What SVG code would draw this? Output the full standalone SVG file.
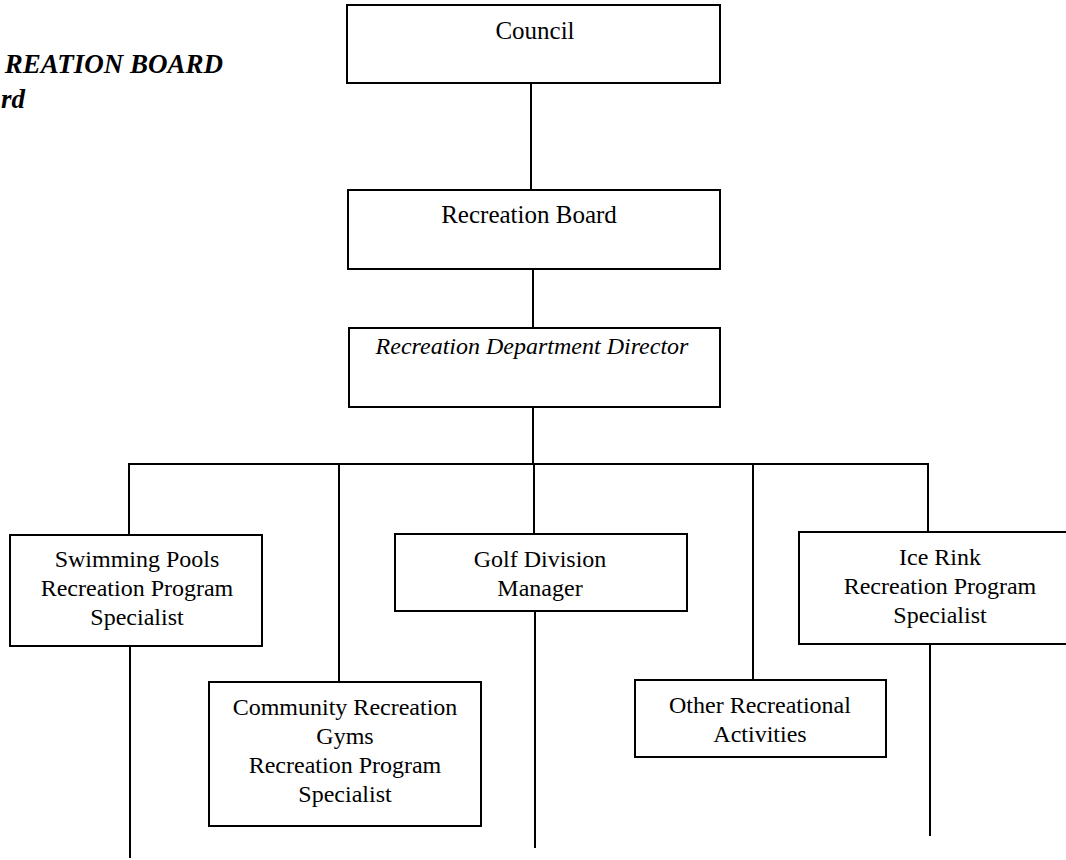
<svg xmlns="http://www.w3.org/2000/svg" width="1066" height="860" viewBox="0 0 1066 860">
<style>
  .box { fill: #ffffff; stroke: #000000; stroke-width: 2; }
  .conn { fill: none; stroke: #000000; stroke-width: 2; }
  .t { font-family: "Liberation Serif", "Times New Roman", serif; font-size: 24px; fill: #000000; text-anchor: middle; }
  .big { font-size: 25px; }
  .it { font-style: italic; }
  .title { font-family: "Liberation Serif", "Times New Roman", serif; font-size: 27px; font-weight: bold; font-style: italic; fill: #000000; text-anchor: end; }
</style>
<rect width="1066" height="860" fill="#ffffff"/>
<g id="title">
  <text class="title" x="223" y="73">REATION BOARD</text>
  <text class="title" x="25" y="108">rd</text>
</g>
<g id="connectors">
  <line class="conn" x1="531" y1="83" x2="531" y2="190"/>
  <line class="conn" x1="533" y1="269" x2="533" y2="328"/>
  <line class="conn" x1="533" y1="407" x2="533" y2="464"/>
  <line class="conn" x1="128" y1="464" x2="929" y2="464"/>
  <line class="conn" x1="129" y1="464" x2="129" y2="535"/>
  <line class="conn" x1="339" y1="464" x2="339" y2="682"/>
  <line class="conn" x1="534" y1="464" x2="534" y2="534"/>
  <line class="conn" x1="753" y1="464" x2="753" y2="680"/>
  <line class="conn" x1="928" y1="464" x2="928" y2="532"/>
  <line class="conn" x1="130" y1="646" x2="130" y2="858"/>
  <line class="conn" x1="535" y1="611" x2="535" y2="848"/>
  <line class="conn" x1="930" y1="644" x2="930" y2="836"/>
</g>
<g id="council">
  <rect class="box" x="347" y="5" width="373" height="78"/>
  <text class="t big" x="535" y="39">Council</text>
</g>
<g id="recreation-board">
  <rect class="box" x="348" y="190" width="372" height="79"/>
  <text class="t big" x="529" y="223">Recreation Board</text>
</g>
<g id="director">
  <rect class="box" x="349" y="328" width="371" height="79"/>
  <text class="t it" x="532" y="354">Recreation Department Director</text>
</g>
<g id="swimming-pools">
  <rect class="box" x="10" y="535" width="252" height="111"/>
  <text class="t" x="137" y="567">Swimming Pools</text>
  <text class="t" x="137" y="596">Recreation Program</text>
  <text class="t" x="137" y="625">Specialist</text>
</g>
<g id="community">
  <rect class="box" x="209" y="682" width="272" height="144"/>
  <text class="t" x="345" y="715">Community Recreation</text>
  <text class="t" x="345" y="744">Gyms</text>
  <text class="t" x="345" y="773">Recreation Program</text>
  <text class="t" x="345" y="802">Specialist</text>
</g>
<g id="golf">
  <rect class="box" x="395" y="534" width="292" height="77"/>
  <text class="t" x="540" y="567">Golf Division</text>
  <text class="t" x="540" y="596">Manager</text>
</g>
<g id="other">
  <rect class="box" x="635" y="680" width="251" height="77"/>
  <text class="t" x="760" y="713">Other Recreational</text>
  <text class="t" x="760" y="742">Activities</text>
</g>
<g id="ice-rink">
  <rect class="box" x="799" y="532" width="281" height="112"/>
  <text class="t" x="940" y="565">Ice Rink</text>
  <text class="t" x="940" y="594">Recreation Program</text>
  <text class="t" x="940" y="623">Specialist</text>
</g>
</svg>
